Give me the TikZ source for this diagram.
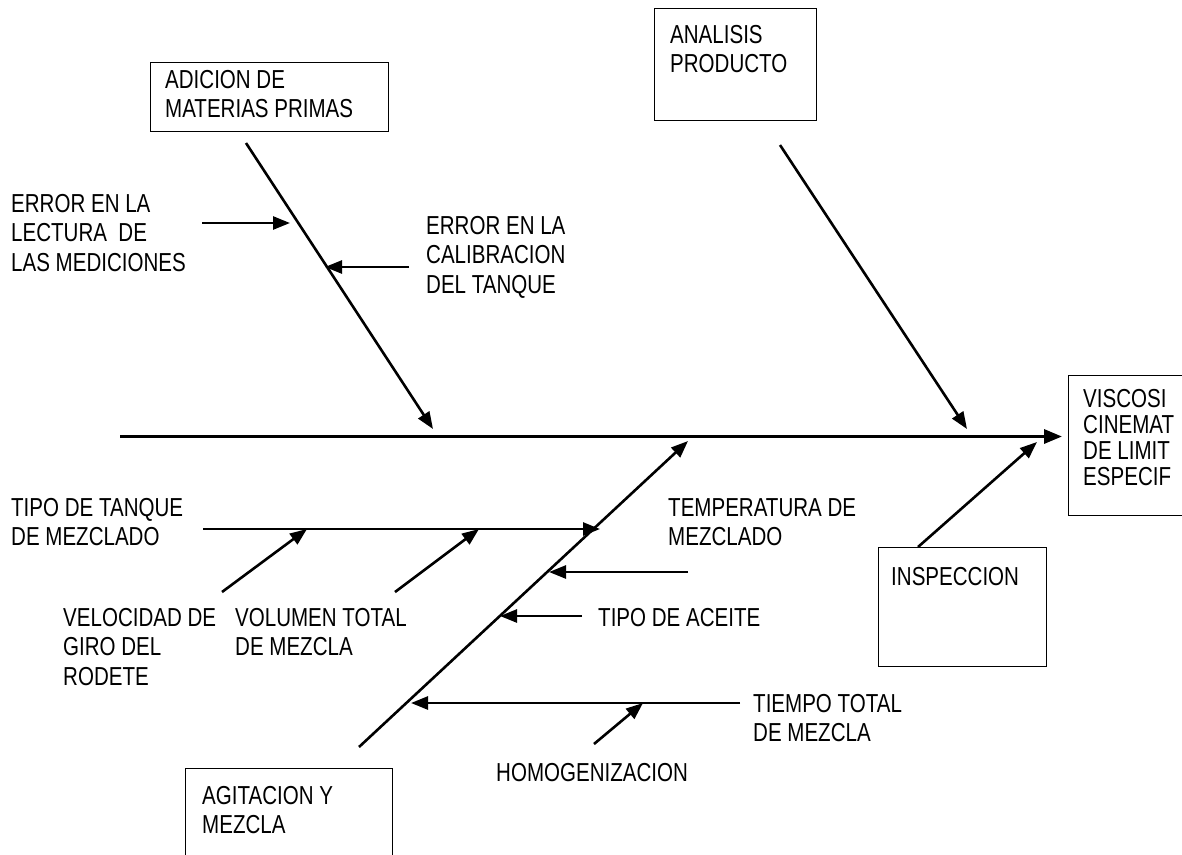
\documentclass[tikz,border=0pt]{standalone}
\usepackage{fontspec}
\setmainfont[FakeStretch=0.79]{Liberation Sans}
\usepackage{xcolor}
\usepackage{tikz}
\usetikzlibrary{arrows.meta}

\tikzset{
	caja/.style={draw, line width=1.3pt, inner sep=0pt, anchor=north west},
	texto/.style={align=left, inner sep=0pt, anchor=north west, font=\fontsize{26}{29.5}\selectfont},
	espina/.style={line width=3.2pt, -{Triangle[length=18pt,width=14pt]}},
	flecha/.style={line width=2.6pt, -{Triangle[length=17pt,width=13pt]}}
}

\begin{document}
\begin{tikzpicture}[x=1pt, y=-1pt]
	
		\useasboundingbox (0,0) rectangle (1182,854);
		
		\node[caja, minimum width=200, minimum height=140] (efecto) at (1068,375) {};
		\node[texto, font=\fontsize{26}{26}\selectfont] (efectoT) at (1083,389) {VISCOSI\\CINEMAT\\DE LIMIT\\ESPECIF};
		\node[caja, minimum width=238, minimum height=69] (adicion) at (150,62) {};
		\node[texto] (adicionT) at (165,70) {ADICION DE\\MATERIAS PRIMAS};
		\node[caja, minimum width=162, minimum height=112] (analisis) at (654,8) {};
		\node[texto] (analisisT) at (670,25) {ANALISIS\\PRODUCTO};
		\node[caja, minimum width=207, minimum height=110] (agitacion) at (185,768) {};
		\node[texto] (agitacionT) at (202,786) {AGITACION Y\\MEZCLA};
		\node[caja, minimum width=168, minimum height=119] (inspeccion) at (878,547) {};
		\node[texto] (inspeccionT) at (891,567) {INSPECCION};
		
		\node[texto] (lectura) at (11,194) {ERROR EN LA\\LECTURA~~DE\\LAS MEDICIONES};
		\node[texto] (calibracion) at (426,216) {ERROR EN LA\\CALIBRACION\\DEL TANQUE};
		\node[texto] (tanque) at (11,498) {TIPO DE TANQUE\\DE MEZCLADO};
		\node[texto] (velocidad) at (63,608) {VELOCIDAD DE\\GIRO DEL\\RODETE};
		\node[texto] (volumen) at (235,608) {VOLUMEN TOTAL\\DE MEZCLA};
		\node[texto] (temperatura) at (668,498) {TEMPERATURA DE\\MEZCLADO};
		\node[texto] (aceite) at (598,608) {TIPO DE ACEITE};
		\node[texto] (tiempo) at (753,694) {TIEMPO TOTAL\\DE MEZCLA};
		\node[texto] (homogenizacion) at (496,763) {HOMOGENIZACION};
		
		\coordinate (cola) at (120,436.5);
		\coordinate (cabeza) at (1062,436.5);
		\coordinate (adicionIni) at (246,143);
		\coordinate (adicionFin) at (433,429);
		\coordinate (analisisIni) at (780,145);
		\coordinate (analisisFin) at (967,429);
		\coordinate (agitacionIni) at (359,747);
		\coordinate (agitacionFin) at (688,441);
		\coordinate (inspeccionIni) at (918,547);
		\coordinate (inspeccionFin) at (1037,442);
		\coordinate (lecturaIni) at (202,223);
		\coordinate (lecturaFin) at (290,223);
		\coordinate (calibracionIni) at (409,267);
		\coordinate (calibracionFin) at (325,267);
		\coordinate (tanqueIni) at (203,529);
		\coordinate (tanqueFin) at (600,529);
		\coordinate (velocidadIni) at (222,592);
		\coordinate (velocidadFin) at (307,529);
		\coordinate (volumenIni) at (395,592);
		\coordinate (volumenFin) at (479,529);
		\coordinate (temperaturaIni) at (688,572);
		\coordinate (temperaturaFin) at (549,572);
		\coordinate (aceiteIni) at (582,616);
		\coordinate (aceiteFin) at (500,616);
		\coordinate (tiempoIni) at (740,703);
		\coordinate (tiempoFin) at (411,703);
		\coordinate (homogenizacionIni) at (594,744);
		\coordinate (homogenizacionFin) at (643,703);
		
		\draw[espina] (cola) -- (cabeza);
		\foreach \h in {adicion, analisis, agitacion, inspeccion, lectura, calibracion, tanque, velocidad, volumen, temperatura, aceite, tiempo, homogenizacion}
			\draw[flecha] (\h Ini) -- (\h Fin);
	\end{tikzpicture}
\end{document}
